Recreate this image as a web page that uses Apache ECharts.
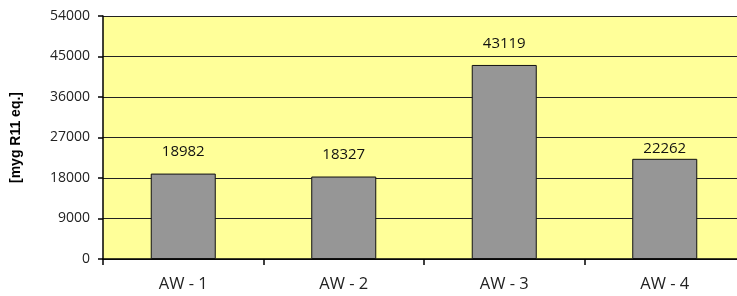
<!DOCTYPE html>
<html><head><meta charset="utf-8">
<script src="https://cdn.jsdelivr.net/npm/echarts@6/dist/echarts.min.js"></script>
<style>html,body{margin:0;padding:0;background:#fff;overflow:hidden;width:737px;height:296px}#c{width:746px;height:296px}</style>
</head><body><div id="c"></div>
<script>
const categories = ['AW - 1', 'AW - 2', 'AW - 3', 'AW - 4'];
const values = [18982, 18327, 43119, 22262];
const yTicks = [0, 9000, 18000, 27000, 36000, 45000, 54000];
const yName = '[myg R11 eq.]';

// label gap above each bar (the last label sits close to its bar in the original)
const labelGaps = [14, 14, 14, 3];

const chart = echarts.init(document.getElementById('c'), null, {renderer: 'canvas'});
chart.setOption({
  animation: false,
  grid: {left: 103, top: 16, right: 1, height: 243, containLabel: false,
         show: true, backgroundColor: '#FFFF99', borderWidth: 0},
  xAxis: {
    type: 'category', data: categories,
    axisLine: {lineStyle: {color: '#000', width: 1.5}},
    axisTick: {show: true, length: 6, alignWithLabel: false, lineStyle: {color: '#000', width: 1.5}},
    axisLabel: {color: '#222', fontFamily: 'Open Sans', fontSize: 16.5, margin: 17}
  },
  yAxis: {
    type: 'value', min: yTicks[0], max: yTicks[yTicks.length - 1], interval: 9000,
    name: yName, nameLocation: 'middle', nameGap: 80, nameRotate: 90,
    nameTextStyle: {fontFamily: 'Liberation Sans', fontWeight: 'bold', fontSize: 14, color: '#000'},
    axisLine: {show: true, lineStyle: {color: '#000', width: 1.5}},
    axisTick: {show: true, length: 5, lineStyle: {color: '#000', width: 1.5}},
    axisLabel: {color: '#222', fontFamily: 'Open Sans', fontSize: 14, margin: 13,
                formatter: v => String(v)},
    splitLine: {show: true, lineStyle: {color: '#222', width: 1.2}}
  },
  series: [{
    type: 'bar', barWidth: '40.5%',
    data: values.map((v, i) => ({value: v, label: {distance: labelGaps[i]}})),
    itemStyle: {color: '#969696', borderColor: '#111', borderWidth: 1},
    label: {show: true, position: 'top', color: '#111',
            fontFamily: 'Open Sans', fontSize: 15}
  }]
});
</script></body></html>
